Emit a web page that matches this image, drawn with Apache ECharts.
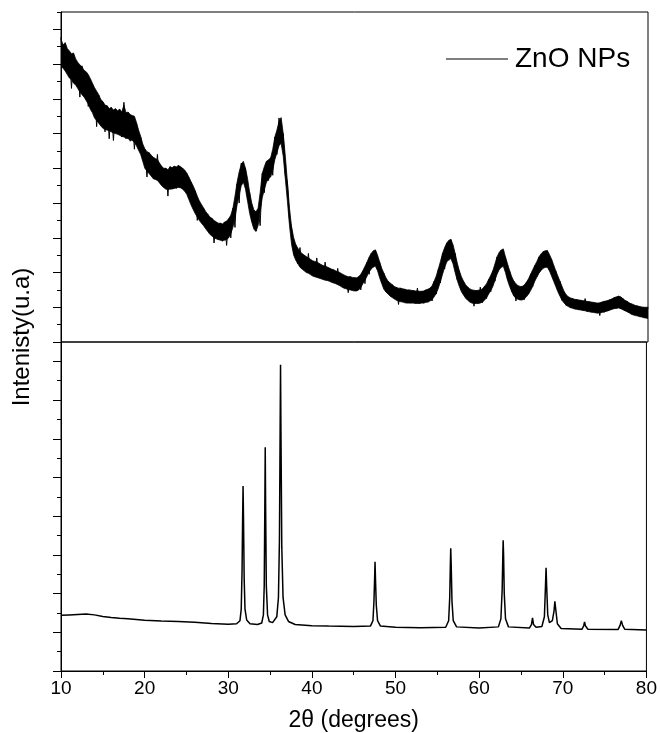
<!DOCTYPE html>
<html>
<head>
<meta charset="utf-8">
<script src="https://cdn.jsdelivr.net/npm/echarts@6/dist/echarts.min.js"></script>
<style>
html,body{margin:0;padding:0;background:#fff;}
#chart{width:660px;height:733px;}
</style>
</head>
<body>
<div id="chart"></div>
<script>
// ---- data ----
const xRange = [10, 80];
const xTickStep = 10;
const topStart = 10;      // 2θ of first sample of measured pattern
const topStep = 0.25;     // 2θ spacing of measured pattern samples
// measured ZnO NPs pattern: upper edge of the noise band (a.u.)
const topUpper = [
  8.72, 8.55, 8.62, 8.45,
  8.38, 8.3, 8.32, 8.15,
  8.05, 7.98, 7.92, 7.82,
  7.78, 7.7, 7.58, 7.45,
  7.32, 7.22, 7.12, 6.98,
  6.92, 6.82, 6.8, 6.72,
  6.75, 6.68, 6.72, 6.66,
  6.7, 6.62, 6.82, 6.6,
  6.62, 6.55, 6.52, 6.5,
  6.32, 6.1, 5.92, 5.7,
  5.56, 5.48, 5.45, 5.38,
  5.32, 5.28, 5.25, 5.15,
  5.06, 5.0, 5.0, 4.96,
  5.04, 5.02, 5.06, 5.04,
  5.08, 5.05, 5.0, 4.95,
  4.86, 4.75, 4.62, 4.5,
  4.36, 4.2, 4.06, 3.96,
  3.86, 3.76, 3.68, 3.6,
  3.56, 3.5, 3.46, 3.42,
  3.42, 3.4, 3.45, 3.48,
  3.55, 3.65, 3.85, 4.2,
  4.6, 4.9, 5.12, 5.2,
  5.0, 4.7, 4.3, 4.0,
  3.8, 3.75, 3.85, 4.3,
  4.85, 5.05, 5.2, 5.25,
  5.3, 5.55, 5.9, 6.1,
  6.35, 6.46, 6.0, 5.35,
  4.6, 3.85, 3.3, 3.0,
  2.8, 2.7, 2.6, 2.55,
  2.5, 2.46, 2.42, 2.38,
  2.34, 2.32, 2.3, 2.27,
  2.23, 2.2, 2.18, 2.16,
  2.13, 2.1, 2.08, 2.05,
  2.02, 2.0, 1.96, 1.93,
  1.9, 1.88, 1.88, 1.86,
  1.85, 1.85, 1.88, 1.95,
  2.05, 2.18, 2.3, 2.45,
  2.55, 2.63, 2.65, 2.5,
  2.3, 2.12, 1.98, 1.85,
  1.75, 1.7, 1.65, 1.6,
  1.57, 1.55, 1.55, 1.53,
  1.52, 1.5, 1.5, 1.49,
  1.48, 1.47, 1.47, 1.46,
  1.46, 1.47, 1.5, 1.52,
  1.55, 1.62, 1.75, 1.9,
  2.1, 2.32, 2.55, 2.72,
  2.85, 2.93, 2.95, 2.8,
  2.55, 2.28, 2.05, 1.88,
  1.75, 1.65, 1.58, 1.53,
  1.5, 1.49, 1.48, 1.49,
  1.5, 1.53, 1.6, 1.68,
  1.8, 1.92, 2.05, 2.25,
  2.45, 2.58, 2.65, 2.68,
  2.45, 2.25, 2.05, 1.88,
  1.75, 1.68, 1.62, 1.6,
  1.6, 1.64, 1.72, 1.82,
  1.95, 2.08, 2.2, 2.32,
  2.45, 2.54, 2.6, 2.63,
  2.63, 2.52, 2.38, 2.22,
  2.05, 1.9, 1.75, 1.6,
  1.45, 1.36, 1.3, 1.27,
  1.25, 1.23, 1.22, 1.21,
  1.2, 1.19, 1.18, 1.17,
  1.16, 1.15, 1.14, 1.13,
  1.12, 1.13, 1.15, 1.17,
  1.18, 1.2, 1.22, 1.25,
  1.28, 1.3, 1.32, 1.3,
  1.25, 1.2, 1.17, 1.13,
  1.1, 1.08, 1.05, 1.04,
  1.02, 1.01, 1.0, 1.0,
  1.0
];
// measured ZnO NPs pattern: lower edge of the noise band (a.u.)
const topLower = [
  7.95, 7.88, 7.8, 7.7,
  7.6, 7.55, 7.45, 7.4,
  7.3, 7.2, 7.12, 7.05,
  6.95, 6.85, 6.7, 6.6,
  6.45, 6.38, 6.3, 6.22,
  6.15, 6.12, 6.1, 6.08,
  6.05, 6.02, 6.0, 5.98,
  5.95, 5.92, 5.9, 5.88,
  5.85, 5.82, 5.8, 5.75,
  5.65, 5.52, 5.4, 5.2,
  5.0, 4.92, 4.85, 4.78,
  4.7, 4.68, 4.65, 4.58,
  4.5, 4.45, 4.4, 4.4,
  4.4, 4.41, 4.42, 4.44,
  4.45, 4.44, 4.4, 4.34,
  4.25, 4.1, 3.95, 3.82,
  3.7, 3.6, 3.5, 3.42,
  3.35, 3.26, 3.18, 3.1,
  3.05, 3.0, 2.97, 2.95,
  2.93, 2.92, 2.93, 2.95,
  3.0, 3.12, 3.3, 3.6,
  3.95, 4.25, 4.5, 4.6,
  4.4, 4.05, 3.7, 3.45,
  3.25, 3.18, 3.35, 3.75,
  4.15, 4.4, 4.6, 4.7,
  4.75, 4.95, 5.25, 5.45,
  5.65, 5.72, 5.35, 4.7,
  4.05, 3.35, 2.8, 2.5,
  2.35, 2.25, 2.15, 2.1,
  2.05, 2.0, 1.98, 1.94,
  1.9, 1.88, 1.86, 1.84,
  1.82, 1.8, 1.78, 1.77,
  1.75, 1.72, 1.7, 1.68,
  1.65, 1.62, 1.58, 1.55,
  1.53, 1.51, 1.5, 1.48,
  1.47, 1.47, 1.5, 1.57,
  1.68, 1.78, 1.9, 2.02,
  2.1, 2.17, 2.18, 2.05,
  1.85, 1.68, 1.52, 1.44,
  1.38, 1.32, 1.28, 1.24,
  1.2, 1.18, 1.16, 1.15,
  1.13, 1.12, 1.12, 1.12,
  1.12, 1.11, 1.11, 1.11,
  1.12, 1.12, 1.14, 1.16,
  1.18, 1.22, 1.3, 1.4,
  1.55, 1.75, 1.95, 2.15,
  2.3, 2.38, 2.4, 2.25,
  2.0, 1.78, 1.6, 1.45,
  1.35, 1.26, 1.2, 1.15,
  1.12, 1.11, 1.11, 1.11,
  1.12, 1.15, 1.2, 1.28,
  1.38, 1.48, 1.6, 1.78,
  1.95, 2.08, 2.15, 2.18,
  2.0, 1.78, 1.6, 1.45,
  1.32, 1.26, 1.23, 1.21,
  1.21, 1.24, 1.3, 1.38,
  1.48, 1.6, 1.75, 1.87,
  1.98, 2.06, 2.12, 2.15,
  2.15, 2.05, 1.9, 1.75,
  1.6, 1.45, 1.32, 1.2,
  1.12, 1.06, 1.02, 0.99,
  0.97, 0.95, 0.94, 0.93,
  0.92, 0.91, 0.9, 0.88,
  0.87, 0.86, 0.85, 0.84,
  0.83, 0.84, 0.85, 0.87,
  0.88, 0.9, 0.92, 0.95,
  0.96, 0.97, 0.98, 0.96,
  0.93, 0.9, 0.87, 0.84,
  0.8, 0.78, 0.76, 0.75,
  0.73, 0.72, 0.7, 0.69,
  0.68
];
// measured ZnO NPs pattern: individual noisy trace with spikes (alternating highs/lows)
const topTrace = [
  8.78, 7.9, 8.5, 7.8,
  8.35, 7.3, 8.25, 7.5,
  8.0, 7.05, 7.95, 7.1,
  7.75, 6.78, 7.55, 6.85,
  7.3, 6.2, 7.1, 6.3,
  6.9, 6.05, 6.8, 5.85,
  6.75, 5.8, 6.7, 6.0,
  6.7, 5.9, 6.9, 5.85,
  6.6, 5.78, 6.5, 5.55,
  6.3, 5.6, 5.9, 5.3,
  5.55, 4.75, 5.45, 4.85,
  5.3, 4.7, 5.4, 4.62,
  5.05, 4.45, 5.0, 4.2,
  5.05, 4.4, 5.05, 4.42,
  5.08, 4.45, 5.0, 4.38,
  4.85, 4.2, 4.6, 3.95,
  4.35, 3.5, 4.05, 3.5,
  3.85, 3.32, 3.68, 3.15,
  3.55, 2.85, 3.45, 2.95,
  3.42, 2.9, 3.45, 2.78,
  3.55, 3.0, 3.85, 3.3,
  4.55, 4.0, 5.15, 4.6,
  5.0, 4.1, 4.3, 3.5,
  3.8, 3.2, 3.8, 3.35,
  4.85, 4.3, 5.2, 4.65,
  5.3, 4.8, 5.9, 5.4,
  6.45, 5.75, 6.0, 4.8,
  4.6, 3.5, 3.3, 2.55,
  2.8, 2.25, 2.72, 2.12,
  2.5, 2.02, 2.55, 1.98,
  2.33, 1.9, 2.42, 1.86,
  2.22, 1.82, 2.3, 1.78,
  2.13, 1.75, 2.08, 1.7,
  2.12, 1.65, 1.96, 1.58,
  1.9, 1.42, 1.88, 1.5,
  1.85, 1.47, 1.88, 1.5,
  2.05, 1.68, 2.3, 1.95,
  2.55, 2.15, 2.65, 2.1,
  2.3, 1.7, 1.98, 1.45,
  1.75, 1.35, 1.65, 1.27,
  1.57, 1.08, 1.55, 1.16,
  1.52, 1.13, 1.5, 1.12,
  1.48, 1.12, 1.55, 1.11,
  1.46, 1.12, 1.5, 1.14,
  1.55, 1.18, 1.75, 1.38,
  2.1, 1.7, 2.55, 2.1,
  2.85, 2.35, 2.95, 2.3,
  2.55, 1.8, 2.05, 1.5,
  1.75, 1.3, 1.58, 1.18,
  1.5, 1.03, 1.48, 1.12,
  1.58, 1.13, 1.6, 1.25,
  1.8, 1.45, 2.05, 1.75,
  2.45, 2.1, 2.65, 2.2,
  2.45, 1.8, 2.05, 1.45,
  1.75, 1.18, 1.62, 1.22,
  1.6, 1.22, 1.72, 1.38,
  1.95, 1.6, 2.2, 1.88,
  2.45, 2.08, 2.6, 2.15,
  2.63, 2.05, 2.38, 1.78,
  2.05, 1.5, 1.75, 1.2,
  1.45, 1.05, 1.3, 0.99,
  1.25, 0.95, 1.22, 0.93,
  1.2, 0.91, 1.25, 0.88,
  1.16, 0.86, 1.14, 0.85,
  1.12, 0.76, 1.15, 0.85,
  1.18, 0.9, 1.22, 0.94,
  1.28, 0.97, 1.32, 0.96,
  1.25, 0.9, 1.17, 0.85,
  1.1, 0.78, 1.05, 0.76,
  1.02, 0.72, 1.0, 0.7,
  1.0
];
// reference (bulk) ZnO pattern: 2θ and intensity
const refAngle = [10,11,12,13,14,15,16,17,18,19,20,22,24,26,28,30,31,31.4,31.55,31.65,31.72,31.77,31.82,31.9,32.0,32.2,32.6,33.5,34.0,34.2,34.3,34.37,34.42,34.47,34.55,34.7,34.9,35.3,35.8,36.0,36.12,36.2,36.25,36.3,36.4,36.55,36.8,37.2,38,40,42,45,47,47.3,47.42,47.5,47.55,47.6,47.7,47.85,48.2,50,53,56,56.35,56.48,56.56,56.6,56.65,56.75,56.9,57.3,60,62.3,62.6,62.75,62.83,62.87,62.92,63.0,63.15,63.5,66,66.25,66.38,66.5,66.8,67.5,67.8,67.93,68.0,68.07,68.2,68.4,68.75,68.95,69.05,69.1,69.18,69.35,69.8,72.3,72.5,72.6,72.7,73,76.6,76.85,77.0,77.15,77.4,80];
const refIntensity = [1.44,1.45,1.46,1.47,1.45,1.41,1.38,1.36,1.35,1.33,1.31,1.29,1.28,1.26,1.23,1.21,1.22,1.3,1.6,2.6,4.0,4.78,4.0,2.4,1.6,1.32,1.22,1.2,1.24,1.45,2.2,4.2,5.78,4.2,2.2,1.45,1.28,1.25,1.4,1.9,3.4,6.2,7.91,6.2,3.2,1.9,1.45,1.28,1.2,1.17,1.16,1.15,1.16,1.3,1.8,2.4,2.82,2.4,1.7,1.3,1.16,1.13,1.12,1.13,1.3,1.9,2.8,3.17,2.8,1.8,1.3,1.14,1.11,1.14,1.35,2.1,3.0,3.38,3.0,2.0,1.35,1.14,1.11,1.2,1.37,1.2,1.13,1.15,1.4,2.2,2.67,2.2,1.45,1.25,1.3,1.55,1.8,1.81,1.55,1.22,1.1,1.08,1.17,1.27,1.17,1.08,1.07,1.18,1.30,1.18,1.08,1.06];
const topYMax = 9.5;
const botYMax = 8.5;
const topMajorTicks = [0,1,2,3,4,5,6,7,8,9];
const topMinorTicks = [0.5,1.5,2.5,3.5,4.5,5.5,6.5,7.5,8.5,9.5];
const botMajorTicks = [0,1,2,3,4,5,6,7,8];
const botMinorTicks = [0.5,1.5,2.5,3.5,4.5,5.5,6.5,7.5,8.5];
const legendName = 'ZnO NPs';
const xName = '2θ (degrees)';
const yName = 'Intenisty(u.a)';

// ---- chart ----
const FONT = '"Liberation Sans", Arial, Helvetica, sans-serif';
const angleAt = i => topStart + i * topStep;
// intensity first so the stack is applied to the intensity (y) dimension
const lowerData = topLower.map((v, i) => [v, angleAt(i)]);
const bandData = topUpper.map((v, i) => [v - topLower[i], angleAt(i)]);
const traceData = topTrace.map((v, i) => [angleAt(i), v]);
const refData = refAngle.map((a, i) => [a, refIntensity[i]]);

function yAx(gridIndex, max, ticks, len, showLine) {
  return {
    type: 'value', gridIndex: gridIndex, min: 0, max: max, position: 'left',
    axisLine: {show: showLine, lineStyle: {color: '#000', width: 1}},
    axisTick: {show: true, inside: false, length: len, customValues: ticks, lineStyle: {color: '#000', width: 1}},
    axisLabel: {show: false},
    splitLine: {show: false}
  };
}

const chart = echarts.init(document.getElementById('chart'), null, {renderer: 'canvas'});
chart.setOption({
  animation: false,
  backgroundColor: '#fff',
  grid: [
    {left: 61, right: 12, top: 12, height: 330, show: true, borderColor: '#000', borderWidth: 1, backgroundColor: 'transparent'},
    {left: 61, right: 12, top: 342, height: 330, show: true, borderColor: '#000', borderWidth: 1, backgroundColor: 'transparent'}
  ],
  legend: {
    data: [{name: legendName, icon: 'rect'}], left: 441, top: 40, itemWidth: 62, itemHeight: 1.2, itemGap: 0,
    itemStyle: {color: '#000'},
    textStyle: {fontFamily: FONT, fontSize: 28, color: '#000', padding: [0, 0, 0, 2]}
  },
  xAxis: [
    {type: 'value', gridIndex: 0, min: xRange[0], max: xRange[1], interval: xTickStep, show: false},
    {type: 'value', gridIndex: 1, min: xRange[0], max: xRange[1], interval: xTickStep,
      axisLine: {show: true, lineStyle: {color: '#000', width: 1}},
      axisTick: {show: true, inside: false, length: 7, lineStyle: {color: '#000'}},
      minorTick: {show: true, splitNumber: 2, length: 4, lineStyle: {color: '#000'}},
      axisLabel: {fontFamily: FONT, fontSize: 19, color: '#000', margin: 8},
      splitLine: {show: false},
      name: xName, nameLocation: 'middle', nameGap: 38,
      nameTextStyle: {fontFamily: FONT, fontSize: 23, color: '#000'}
    }
  ],
  yAxis: [
    yAx(0, topYMax, topMajorTicks, 8, true),
    yAx(0, topYMax, topMinorTicks, 4, false),
    yAx(1, botYMax, botMajorTicks, 8, true),
    yAx(1, botYMax, botMinorTicks, 4, false)
  ],
  graphic: [{
    type: 'text', x: 22, y: 337, rotation: Math.PI / 2,
    style: {text: yName, fontFamily: FONT, fontSize: 24, fill: '#000', align: 'center', verticalAlign: 'middle'}
  }],
  series: [
    {name: 'band-base', type: 'line', xAxisIndex: 0, yAxisIndex: 0, data: lowerData, encode: {x: 1, y: 0},
      stack: 'band', symbol: 'none', silent: true, lineStyle: {color: '#000', width: 0.8}, z: 3},
    {name: legendName, type: 'line', xAxisIndex: 0, yAxisIndex: 0, data: bandData, encode: {x: 1, y: 0},
      stack: 'band', symbol: 'none', silent: true, lineStyle: {color: '#000', width: 0.8},
      areaStyle: {color: '#000', opacity: 1}, itemStyle: {color: '#000'}, z: 3},
    {name: 'trace', type: 'line', xAxisIndex: 0, yAxisIndex: 0, data: traceData,
      symbol: 'none', silent: true, lineStyle: {color: '#000', width: 1}, z: 4},
    {name: 'reference', type: 'line', xAxisIndex: 1, yAxisIndex: 2, data: refData, symbol: 'none',
      lineStyle: {color: '#000', width: 1.5}, itemStyle: {color: '#000'}, z: 3}
  ]
});
</script>
</body>
</html>
